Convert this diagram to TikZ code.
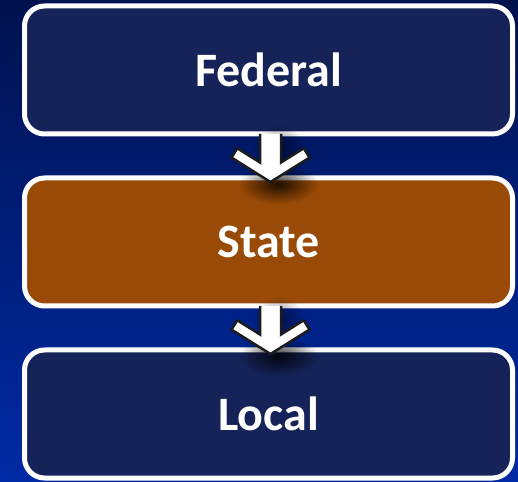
\documentclass[tikz,border=0pt]{standalone}
\usepackage{fontspec}
\setmainfont{Carlito}
\usetikzlibrary{positioning,fadings}

\definecolor{bgtop}{RGB}{0,17,78}
\definecolor{bgbottom}{RGB}{0,42,165}
\definecolor{boxnavy}{RGB}{21,35,88}
\definecolor{boxrust}{RGB}{154,74,7}
\definecolor{arrowline}{RGB}{28,28,30}

\tikzfading[name=softspot, inner color=transparent!0, outer color=transparent!100]

\tikzset{
  level/.style={draw=white, line width=5pt, rounded corners=20pt,
    minimum width=488pt, minimum height=128pt, outer sep=0pt,
    text=white, font=\bfseries\fontsize{48}{57}\selectfont},
  pics/downarrow/.style={code={
    % soft shadow under the tip
    \fill[black, opacity=0.8, path fading=softspot]
      (8,-50) ellipse [x radius=40pt, y radius=20pt];
    \fill[black, opacity=0.5, path fading=softspot]
      (8,-14) ellipse [x radius=26pt, y radius=24pt];
    \fill[white] (-10.5,0) -- (-10.5,-28.5) -- (-33.2,-14.3) -- (-39,-23.6)
      -- (0,-48) -- (39,-23.6) -- (33.2,-14.3) -- (10.5,-28.5) -- (10.5,0) -- cycle;
    \draw[arrowline, line width=2.5pt, line join=miter]
      (-10.5,0) -- (-10.5,-28.5) -- (-33.2,-14.3) -- (-39,-23.6)
      -- (0,-48) -- (39,-23.6) -- (33.2,-14.3) -- (10.5,-28.5) -- (10.5,0);
  }}
}

\begin{document}
\begin{tikzpicture}[x=1pt, y=1pt, node distance=44pt]
  \shade[top color=bgtop, bottom color=bgbottom] (0,0) rectangle (518,481);
  \useasboundingbox (0,0) rectangle (518,481);

  \node[level, fill=boxnavy] (federal) at (268.5,411) {Federal};
  \node[level, fill=boxrust, below=of federal] (state) {State};
  \node[level, fill=boxnavy, below=of state] (local) {Local};

  \pic[xshift=2pt] at (federal.south) {downarrow};
  \pic[xshift=2pt] at (state.south) {downarrow};
\end{tikzpicture}
\end{document}
